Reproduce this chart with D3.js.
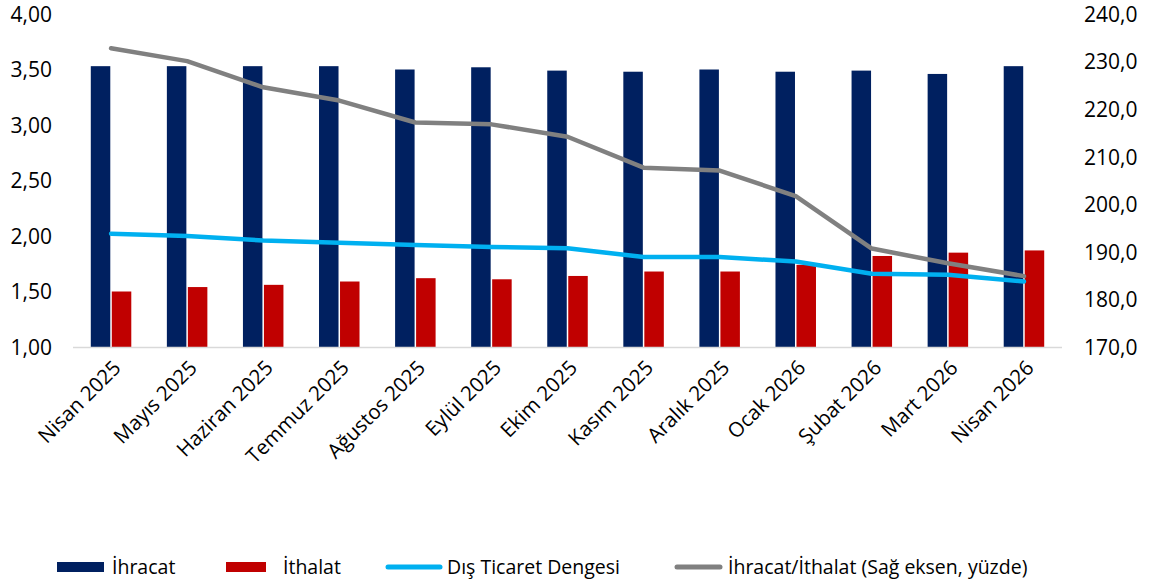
<!DOCTYPE html>
<html><head><meta charset="utf-8">
<script src="https://cdn.jsdelivr.net/npm/d3@7"></script>
<style>
body{margin:0;background:#fff;}
text{font-family:"Open Sans",Lato,sans-serif;fill:#000;}
</style></head>
<body><svg id="c" width="1150" height="586"></svg>
<script>
const categories=["Nisan 2025","Mayıs 2025","Haziran 2025","Temmuz 2025","Ağustos 2025","Eylül 2025","Ekim 2025","Kasım 2025","Aralık 2025","Ocak 2026","Şubat 2026","Mart 2026","Nisan 2026"];
const ihracat=[3.53,3.53,3.53,3.53,3.50,3.52,3.49,3.48,3.50,3.48,3.49,3.46,3.53];
const ithalat=[1.50,1.54,1.56,1.59,1.62,1.61,1.64,1.68,1.68,1.74,1.82,1.85,1.87];
const denge=[2.02,2.00,1.96,1.94,1.92,1.90,1.89,1.81,1.81,1.77,1.66,1.65,1.59];
const oran=[232.8,230.1,224.6,221.8,217.2,216.8,214.2,207.7,207.1,201.7,190.7,187.6,184.9];
const leftTicks=[1.00,1.50,2.00,2.50,3.00,3.50,4.00];
const rightTicks=[170,180,190,200,210,220,230,240];
const legendLabels=["İhracat","İthalat","Dış Ticaret Dengesi","İhracat/İthalat (Sağ eksen, yüzde)"];
const colors={ihr:"#002060",ith:"#c00000",den:"#00b0f0",ora:"#808080"};

const svg=d3.select("#c");
const x=d3.scaleBand().domain(categories).range([73,1062]);
const yL=d3.scaleLinear().domain([1,4]).range([347,14]);
const yR=d3.scaleLinear().domain([170,240]).range([347,14]);
const bw=19.5, gap=1.5;
const fmt2=d=>d3.format(".2f")(d).replace(".",",");
const fmt1=d=>d3.format(".1f")(d).replace(".",",");

const gl=svg.append("g").attr("transform","translate(52,0)")
 .call(d3.axisLeft(yL).tickValues(leftTicks).tickFormat(fmt2).tickSize(0).tickPadding(0));
gl.select(".domain").remove();
gl.selectAll("text").style("font-size","21px").attr("dy","0.35em");
const gr=svg.append("g").attr("transform","translate(1084,0)")
 .call(d3.axisRight(yR).tickValues(rightTicks).tickFormat(fmt1).tickSize(0).tickPadding(0));
gr.select(".domain").remove();
gr.selectAll("text").style("font-size","21px").attr("dy","0.35em");

const cx=d=>x(d)+x.bandwidth()/2;
svg.append("g").selectAll("rect").data(categories).join("rect")
 .attr("x",(d)=>cx(d)-bw-gap/2).attr("width",bw)
 .attr("y",(d,i)=>yL(ihracat[i])).attr("height",(d,i)=>yL(1)-yL(ihracat[i]))
 .attr("fill",colors.ihr);
svg.append("g").selectAll("rect").data(categories).join("rect")
 .attr("x",(d)=>cx(d)+gap/2).attr("width",bw)
 .attr("y",(d,i)=>yL(ithalat[i])).attr("height",(d,i)=>yL(1)-yL(ithalat[i]))
 .attr("fill",colors.ith);

svg.append("line").attr("x1",73).attr("x2",1062).attr("y1",yL(1)+0.5).attr("y2",yL(1)+0.5)
 .attr("stroke","#d9d9d9").attr("stroke-width",1.5);

svg.append("path").datum(denge).attr("fill","none").attr("stroke",colors.den).attr("stroke-width",4.5)
 .attr("stroke-linejoin","round").attr("stroke-linecap","round")
 .attr("d",d3.line().x((d,i)=>cx(categories[i])).y(d=>yL(d)));
svg.append("path").datum(oran).attr("fill","none").attr("stroke",colors.ora).attr("stroke-width",4.5)
 .attr("stroke-linejoin","round").attr("stroke-linecap","round")
 .attr("d",d3.line().x((d,i)=>cx(categories[i])).y(d=>yR(d)));

svg.append("g").selectAll("text").data(categories).join("text")
 .attr("transform",d=>`translate(${cx(d)+6},${364}) rotate(-45)`)
 .attr("text-anchor","end").attr("dy","0.35em").style("font-size","20.5px").text(d=>d);

const lg=svg.append("g");
const items=[
 {t:legendLabels[0],c:colors.ihr,type:"rect",x:57,w:47,tx:112},
 {t:legendLabels[1],c:colors.ith,type:"rect",x:226,w:40,tx:283},
 {t:legendLabels[2],c:colors.den,type:"line",x:388,w:52,tx:447},
 {t:legendLabels[3],c:colors.ora,type:"line",x:677,w:43,tx:728}
];
items.forEach(it=>{
 if(it.type==="rect") lg.append("rect").attr("x",it.x).attr("y",562).attr("width",it.w).attr("height",10).attr("fill",it.c);
 else lg.append("line").attr("x1",it.x).attr("x2",it.x+it.w).attr("y1",567).attr("y2",567).attr("stroke",it.c).attr("stroke-width",5).attr("stroke-linecap","round");
 lg.append("text").attr("x",it.tx).attr("y",567).attr("dy","0.35em").style("font-size","19.5px").text(it.t);
});
</script></body></html>
